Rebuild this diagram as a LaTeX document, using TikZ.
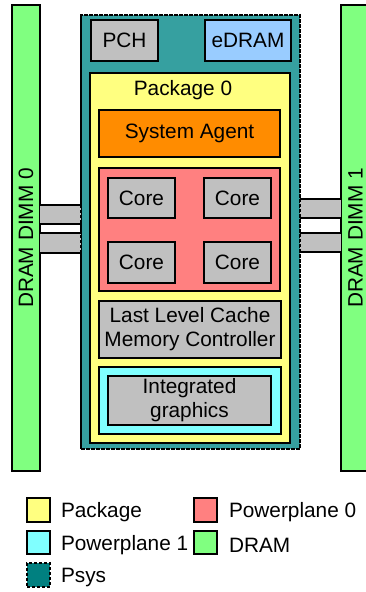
\documentclass[tikz,border=0pt]{standalone}
\usepackage{fontspec}
\setmainfont{Liberation Sans}
\definecolor{dramgreen}{HTML}{80FF80}
\definecolor{pkgyellow}{HTML}{FFFF80}
\definecolor{ppred}{HTML}{FF8080}
\definecolor{ppcyan}{HTML}{80FFFF}
\definecolor{sagent}{HTML}{FF8C00}
\definecolor{boxgray}{HTML}{C0C0C0}
\definecolor{edramblue}{HTML}{99CCFF}
\definecolor{psysteal}{HTML}{36A0A0}
\definecolor{psysdark}{HTML}{008080}
\begin{document}
\begin{tikzpicture}[x=1pt,y=-1pt,
  every node/.style={font=\fontsize{20.8}{24}\selectfont, inner sep=0pt, outer sep=0pt},
  blk/.style={draw=black, line width=1.5pt, rectangle, align=center},
  legsw/.style={draw=black, line width=1.5pt, rectangle, minimum width=23pt, minimum height=24pt},
  legtxt/.style={anchor=west, yshift=-2.5pt},
  psysdash/.style={dash pattern=on 3pt off 2pt}]
\useasboundingbox (0,0) rectangle (366,592);
% DRAM DIMMs
\node[blk, fill=dramgreen, minimum width=28pt, minimum height=466pt] (dimm0) at (26,238) {};
\node[rotate=90] (dimm0lbl) at (dimm0.center) {DRAM DIMM 0};
\node[blk, fill=dramgreen, minimum width=29pt, minimum height=466pt] (dimm1) at (355.5,238) {};
\node[rotate=90] (dimm1lbl) at (dimm1.center) {DRAM DIMM 1};
% Psys box
\node[draw=black, line width=1.2pt, psysdash, fill=psysteal, minimum width=219pt, minimum height=434pt] (psys) at (190.5,232) {};
% links
\foreach \ya/\yb [count=\i] in {205/224, 233/253}{
  \fill[boxgray] (dimm0.east |- 0,\ya) rectangle (psys.west |- 0,\yb);
  \draw[line width=1.3pt] (dimm0.east |- 0,\ya) -- (psys.west |- 0,\ya);
  \draw[line width=1.3pt] (dimm0.east |- 0,\yb) -- (psys.west |- 0,\yb);
}
\foreach \ya/\yb [count=\i] in {199/218, 233/252}{
  \fill[boxgray] (psys.east |- 0,\ya) rectangle (dimm1.west |- 0,\yb);
  \draw[line width=1.3pt] (psys.east |- 0,\ya) -- (dimm1.west |- 0,\ya);
  \draw[line width=1.3pt] (psys.east |- 0,\yb) -- (dimm1.west |- 0,\yb);
}
\draw[line width=1.2pt, psysdash] (psys.north west) rectangle (psys.south east);
% PCH, eDRAM
\node[blk, fill=boxgray, minimum width=67pt, minimum height=41pt] (pch) at (124.5,40.5) {PCH};
\node[blk, fill=edramblue, minimum width=86pt, minimum height=41pt] (edram) at (248,40.5) {eDRAM};
% Package
\node[blk, fill=pkgyellow, minimum width=200pt, minimum height=370pt] (pkg) at (190,258) {};
\node[yshift=-2pt] (pkglbl) at (183,88) {Package 0};
\node[blk, fill=sagent, minimum width=181pt, minimum height=47pt] (sa) at (189.5,133.5) {System Agent};
\node[blk, fill=ppred, minimum width=181pt, minimum height=123pt] (pp0) at (189.5,229.5) {};
\node[blk, fill=boxgray, minimum width=67pt, minimum height=40pt] (c1) at (141.5,198) {Core};
\node[blk, fill=boxgray, minimum width=67pt, minimum height=40pt] (c2) at (237.5,198) {Core};
\node[blk, fill=boxgray, minimum width=67pt, minimum height=41pt] (c3) at (141.5,262.5) {Core};
\node[blk, fill=boxgray, minimum width=67pt, minimum height=41pt] (c4) at (237.5,262.5) {Core};
\node[blk, fill=boxgray, minimum width=182pt, minimum height=57pt] (llc) at (190,329.5) {Last Level Cache\\Memory Controller};
\node[blk, fill=ppcyan, minimum width=182pt, minimum height=67pt] (pp1) at (190,400.5) {};
\node[blk, fill=boxgray, minimum width=163pt, minimum height=49pt] (ig) at (189.5,400.5) {Integrated\\graphics};
% Legend
\node[legsw, fill=pkgyellow] (lpkg) at (38.5,510) {};
\node[legtxt] (lpkgt) at (61,510) {Package};
\node[legsw, fill=ppred] (lpp0) at (205.5,510) {};
\node[legtxt] (lpp0t) at (229,510) {Powerplane 0};
\node[legsw, fill=ppcyan, minimum height=23pt] (lpp1) at (38.5,542.5) {};
\node[legtxt] (lpp1t) at (61,542.5) {Powerplane 1};
\node[legsw, fill=dramgreen, minimum height=23pt] (ldram) at (205.5,542.5) {};
\node[legtxt] (ldramt) at (229,542.5) {DRAM};
\node[legsw, psysdash, fill=psysdark] (lpsys) at (38.5,575) {};
\node[legtxt] (lpsyst) at (61,575) {Psys};
\end{tikzpicture}
\end{document}
